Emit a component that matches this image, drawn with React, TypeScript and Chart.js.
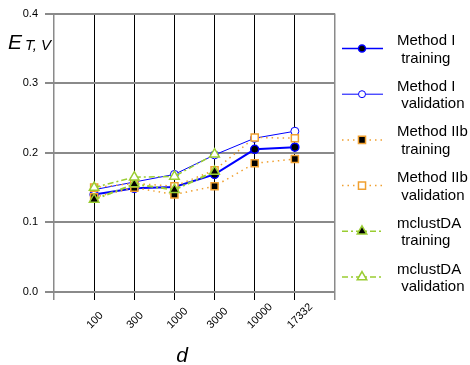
import React, { useEffect, useRef } from 'react';
import { Chart, registerables } from 'chart.js';

Chart.register(...registerables);

const categories = ['100', '300', '1000', '3000', '10000', '17332'];
const methodITraining = [0.140, 0.149, 0.151, 0.169, 0.205, 0.208];
const methodIValidation = [0.147, 0.158, 0.169, 0.197, 0.221, 0.231];
const methodIIbTraining = [0.136, 0.150, 0.140, 0.152, 0.185, 0.191];
const methodIIbValidation = [0.150, 0.156, 0.152, 0.175, 0.222, 0.221];
const mclustTraining = [0.133, 0.155, 0.147, 0.173, null, null];
const mclustValidation = [0.150, 0.165, 0.166, 0.198, null, null];

const legendNames = ['Method I', 'Method I', 'Method IIb', 'Method IIb', 'mclustDA', 'mclustDA'];
const legendRoles = ['training', 'validation', 'training', 'validation', 'training', 'validation'];
const yTickLabels = ['0.0', '0.1', '0.2', '0.3', '0.4'];

const FONT = '"Liberation Sans", Arial, Helvetica, sans-serif';
const BLUE = '#0000ff';
const ORANGE = '#f0a030';
const GREEN = '#9acd32';

type Style = {
  color: string;
  width: number;
  dash: number[];
  shape: 'circle' | 'rect' | 'triangle';
  radius: number;
  fill: string;
  pointBorder: number;
};

const styles: Style[] = [
  { color: BLUE, width: 2, dash: [], shape: 'circle', radius: 4, fill: '#000000', pointBorder: 1.5 },
  { color: BLUE, width: 1, dash: [], shape: 'circle', radius: 4, fill: '#ffffff', pointBorder: 1 },
  { color: ORANGE, width: 1.5, dash: [1.5, 4], shape: 'rect', radius: 5, fill: '#000000', pointBorder: 1.5 },
  { color: ORANGE, width: 1.5, dash: [1.5, 4], shape: 'rect', radius: 5, fill: '#ffffff', pointBorder: 1.5 },
  { color: GREEN, width: 2, dash: [6, 3, 2, 3], shape: 'triangle', radius: 5.5, fill: '#000000', pointBorder: 1.5 },
  { color: GREEN, width: 1.5, dash: [6, 3, 2, 3], shape: 'triangle', radius: 5.5, fill: '#ffffff', pointBorder: 1.5 },
];

const seriesValues = [
  methodITraining,
  methodIValidation,
  methodIIbTraining,
  methodIIbValidation,
  mclustTraining,
  mclustValidation,
];

function drawMarker(ctx: CanvasRenderingContext2D, s: Style, x: number, y: number, r: number) {
  ctx.save();
  ctx.setLineDash([]);
  ctx.fillStyle = s.fill;
  ctx.strokeStyle = s.color;
  ctx.lineWidth = s.pointBorder;
  ctx.beginPath();
  if (s.shape === 'circle') {
    ctx.arc(x, y, r, 0, Math.PI * 2);
  } else if (s.shape === 'rect') {
    const h = r * Math.SQRT1_2;
    ctx.rect(x - h, y - h, 2 * h, 2 * h);
  } else {
    ctx.moveTo(x, y - r);
    ctx.lineTo(x + r * 0.866, y + r * 0.5);
    ctx.lineTo(x - r * 0.866, y + r * 0.5);
    ctx.closePath();
  }
  ctx.fill();
  ctx.stroke();
  ctx.restore();
}

const decorPlugin = {
  id: 'decor',
  afterDraw(chart: any) {
    const ctx: CanvasRenderingContext2D = chart.ctx;
    const xs = chart.scales.x;
    ctx.save();
    // x tick labels, rotated
    ctx.fillStyle = '#000';
    ctx.font = `11px ${FONT}`;
    ctx.textAlign = 'left';
    ctx.textBaseline = 'alphabetic';
    categories.forEach((c, i) => {
      const px = xs.getPixelForValue(i);
      ctx.save();
      ctx.translate(px - 3.5, 329);
      ctx.rotate(-Math.PI / 4);
      ctx.fillText(c, 0, 0);
      ctx.restore();
    });
    // axis titles
    ctx.font = `italic 21px ${FONT}`;
    ctx.fillText('E', 8, 49);
    ctx.font = `italic 15px ${FONT}`;
    ctx.fillText('T, V', 25, 50);
    ctx.font = `italic 21px ${FONT}`;
    ctx.textAlign = 'center';
    ctx.fillText('d', 182, 362);
    // legend
    ctx.textAlign = 'left';
    ctx.font = `15px ${FONT}`;
    styles.forEach((s, i) => {
      const baseY = 45 + i * 45.7;
      const lineY = baseY + 3.5;
      ctx.save();
      ctx.strokeStyle = s.color;
      ctx.lineWidth = Math.min(s.width, 1.5);
      ctx.setLineDash(s.dash);
      ctx.beginPath();
      ctx.moveTo(342, lineY);
      ctx.lineTo(383, lineY);
      ctx.stroke();
      ctx.restore();
      drawMarker(ctx, s, 362, lineY, s.shape === 'circle' ? 3.5 : s.shape === 'rect' ? 5 : 5.5);
      ctx.fillStyle = '#000';
      ctx.fillText(legendNames[i], 397, baseY);
      ctx.fillText(' ' + legendRoles[i], 397, baseY + 17.5);
    });
    ctx.restore();
  },
};

export default function App() {
  const ref = useRef<HTMLCanvasElement>(null);
  useEffect(() => {
    document.body.style.margin = '0';
    const canvas = ref.current!;
    const datasets = seriesValues.map((vals, i) => {
      const s = styles[i];
      return {
        label: `${legendNames[i]} ${legendRoles[i]}`,
        data: vals.map((v, k) => ({ x: k, y: v })),
        borderColor: s.color,
        borderWidth: s.width,
        borderDash: s.dash,
        pointStyle: s.shape,
        pointRadius: s.radius,
        pointBackgroundColor: s.fill,
        pointBorderColor: s.color,
        pointBorderWidth: s.pointBorder,
        backgroundColor: s.fill,
        tension: 0,
        fill: false,
        spanGaps: false,
        order: 6 - i,
      };
    });
    const chart = new Chart(canvas, {
      type: 'line',
      data: { datasets: datasets as any },
      plugins: [decorPlugin],
      options: {
        animation: false,
        responsive: false,
        maintainAspectRatio: false,
        layout: { padding: { left: 0, top: 11, right: 135, bottom: 0 } },
        plugins: { legend: { display: false }, tooltip: { enabled: false } },
        scales: {
          x: {
            type: 'linear',
            min: -1,
            max: 6,
            afterFit: (sc: any) => { sc.height = 73; },
            ticks: { display: false, stepSize: 1 },
            border: { display: false },
            grid: {
              color: (c: any) => (c.tick && (c.tick.value === -1 || c.tick.value === 6) ? '#8a8a8a' : '#000000'),
              lineWidth: (c: any) => (c.tick && (c.tick.value === -1 || c.tick.value === 6) ? 1.5 : 1),
              tickLength: 8,
              drawTicks: true,
            },
          },
          y: {
            type: 'linear',
            min: 0,
            max: 0.4,
            afterFit: (sc: any) => { sc.width = 54; },
            ticks: {
              stepSize: 0.1,
              padding: 7,
              color: '#000',
              font: { family: FONT, size: 11 },
              callback: (v: any) => yTickLabels[Math.round(Number(v) * 10)] ?? '',
            },
            border: { display: false },
            grid: { color: '#8a8a8a', lineWidth: 2, tickLength: 9 },
          },
        },
      },
    });
    return () => chart.destroy();
  }, []);
  return (
    <div style={{ position: 'absolute', left: 0, top: 0, width: 470, height: 365, background: '#fff' }}>
      <canvas ref={ref} width={470} height={365} style={{ display: 'block' }} />
    </div>
  );
}
